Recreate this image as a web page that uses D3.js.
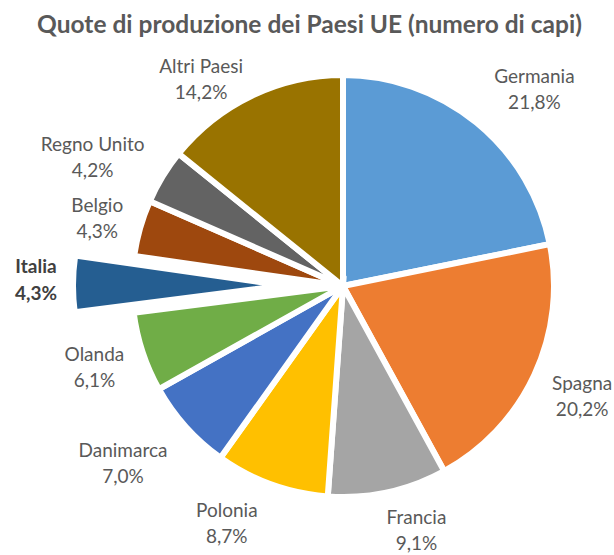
<!DOCTYPE html>
<html>
<head>
<meta charset="utf-8">
<script src="https://cdn.jsdelivr.net/npm/d3@7"></script>
<style>
  html, body { margin: 0; padding: 0; background: #ffffff; }
  svg { display: block; }
</style>
</head>
<body>
<svg id="chart" width="614" height="555"></svg>
<script>
// ---- DATA ----
const categories = ["Germania", "Spagna", "Francia", "Polonia", "Danimarca", "Olanda", "Italia", "Belgio", "Regno Unito", "Altri Paesi"];
const values = [21.8, 20.2, 9.1, 8.7, 7.0, 6.1, 4.3, 4.3, 4.2, 14.2];
const valueLabels = ["21,8%", "20,2%", "9,1%", "8,7%", "7,0%", "6,1%", "4,3%", "4,3%", "4,2%", "14,2%"];
const highlighted = ["Italia"];
const title = "Quote di produzione dei Paesi UE (numero di capi)";

// ---- STYLE / LAYOUT ----
const colors = ["#5B9BD5", "#ED7D31", "#A5A5A5", "#FFC000", "#4472C4", "#70AD47", "#255E91", "#9E480E", "#636363", "#997300"];
const W = 614, H = 555;
const cx = 343, cy = 286, R = 211;
const explodeDist = 59;
const labelR = 266;
// fine adjustments of label placement (relative to the polar anchor)
const labelNudge = {
  "Germania": [23, 8], "Spagna": [-2, -3], "Francia": [17, -17], "Polonia": [-26, -14],
  "Danimarca": [-22, -2], "Olanda": [4, -3], "Italia": [18, -5], "Belgio": [10, 4],
  "Regno Unito": [-23, 8], "Altri Paesi": [-27, 32]
};

const svg = d3.select("#chart");
const font = "Lato, 'Open Sans', sans-serif";

// Title
const t = svg.append("text")
  .attr("x", 309.5).attr("y", 33)
  .attr("text-anchor", "middle")
  .attr("font-family", font)
  .attr("font-weight", "bold")
  .attr("font-size", 22)
  .attr("fill", "#595959")
  .text(title);
const tw = t.node().getComputedTextLength();
t.attr("font-size", 22 * 545 / tw);

const data = categories.map((c, i) => ({ name: c, value: values[i], label: valueLabels[i], color: colors[i] }));

const pie = d3.pie().value(d => d.value).sort(null).startAngle(0).endAngle(2 * Math.PI);
const arcs = pie(data);
const arc = d3.arc().innerRadius(0).outerRadius(R);

const g = svg.append("g").attr("transform", `translate(${cx},${cy})`);

function offset(a) {
  const mid = (a.startAngle + a.endAngle) / 2;
  const d = highlighted.includes(a.data.name) ? explodeDist : 0;
  return [Math.sin(mid) * d, -Math.cos(mid) * d];
}

g.selectAll("path.slice")
  .data(arcs)
  .join("path")
  .attr("class", "slice")
  .attr("d", arc)
  .attr("transform", a => { const o = offset(a); return `translate(${o[0]},${o[1]})`; })
  .attr("fill", a => a.data.color)
  .attr("stroke", "#ffffff")
  .attr("stroke-width", 6)
  .attr("stroke-linejoin", "miter");

// Labels
const labelArc = d3.arc().innerRadius(labelR).outerRadius(labelR);
const lg = g.selectAll("g.lab")
  .data(arcs)
  .join("g")
  .attr("class", "lab")
  .attr("transform", a => {
    const c = labelArc.centroid(a);
    const o = offset(a);
    const n = labelNudge[a.data.name] || [0, 0];
    return `translate(${c[0] + o[0] + n[0]},${c[1] + o[1] + n[1]})`;
  });

lg.each(function(a) {
  const hl = highlighted.includes(a.data.name);
  const sel = d3.select(this);
  const txt = sel.append("text")
    .attr("text-anchor", "middle")
    .attr("font-family", font)
    .attr("font-size", 19)
    .attr("font-weight", hl ? "bold" : "normal")
    .attr("fill", hl ? "#404040" : "#595959");
  txt.append("tspan").attr("x", 0).attr("y", -5).text(a.data.name);
  txt.append("tspan").attr("x", 0).attr("y", hl ? 22 : 21).text(a.data.label);
});
</script>
</body>
</html>
